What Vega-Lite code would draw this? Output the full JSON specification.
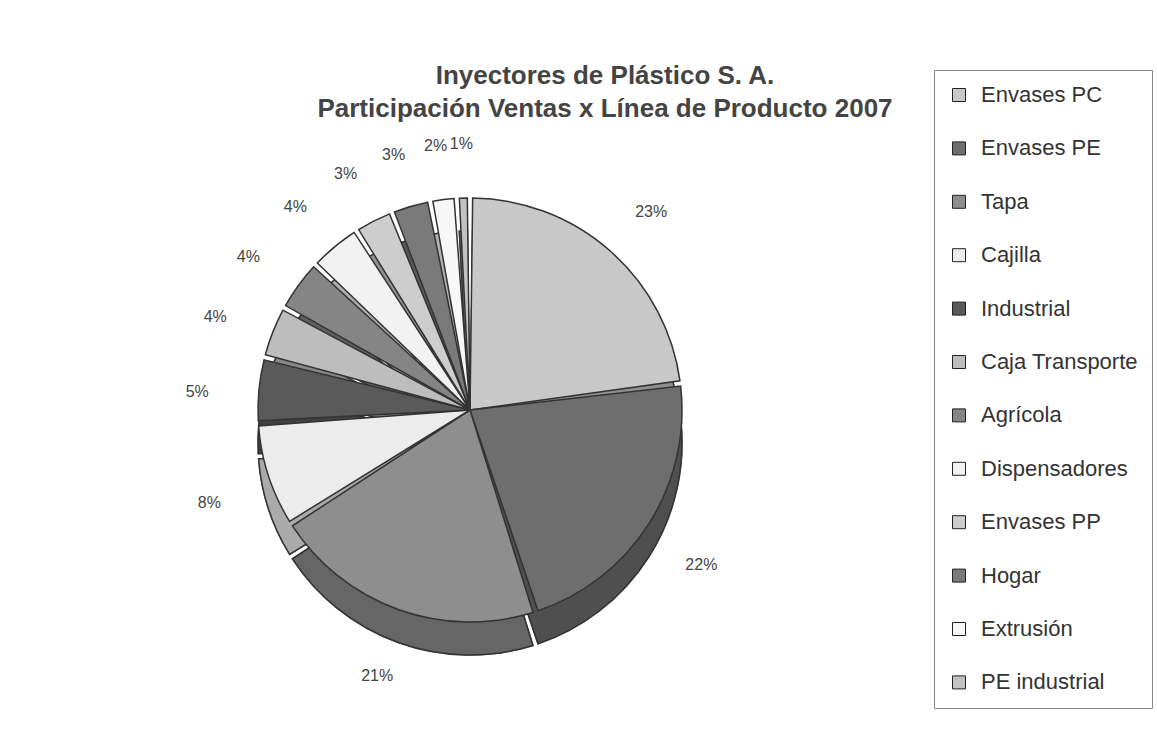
{
  "$schema": "https://vega.github.io/schema/vega-lite/v6.json",
  "autosize": "none",
  "width": 930,
  "height": 520,
  "padding": {"left": 5, "top": 150, "right": 222, "bottom": 67},
  "background": "white",
  "title": {
    "text": ["Inyectores de Plástico S. A.", "Participación Ventas x Línea de Producto 2007"],
    "font": "Liberation Sans",
    "fontSize": 26,
    "fontWeight": "bold",
    "color": "#444444",
    "lineHeight": 33,
    "anchor": "middle",
    "dx": 135,
    "offset": -52
  },
  "data": {
    "values": [
      {"linea": "Envases PC", "participacion": 0.23, "orden": 1},
      {"linea": "Envases PE", "participacion": 0.22, "orden": 2},
      {"linea": "Tapa", "participacion": 0.21, "orden": 3},
      {"linea": "Cajilla", "participacion": 0.08, "orden": 4},
      {"linea": "Industrial", "participacion": 0.05, "orden": 5},
      {"linea": "Caja Transporte", "participacion": 0.04, "orden": 6},
      {"linea": "Agrícola", "participacion": 0.04, "orden": 7},
      {"linea": "Dispensadores", "participacion": 0.04, "orden": 8},
      {"linea": "Envases PP", "participacion": 0.03, "orden": 9},
      {"linea": "Hogar", "participacion": 0.03, "orden": 10},
      {"linea": "Extrusión", "participacion": 0.02, "orden": 11},
      {"linea": "PE industrial", "participacion": 0.01, "orden": 12}
    ]
  },
  "encoding": {
    "theta": {"field": "participacion", "type": "quantitative", "stack": true},
    "order": {"field": "orden", "type": "quantitative", "sort": "ascending"}
  },
  "layer": [
    {
      "mark": {"type": "arc", "radius": 212, "padAngle": 0.025, "yOffset": 33, "fill": "#000000", "stroke": "#333333", "strokeWidth": 1.5}
    },
    {
      "mark": {"type": "arc", "radius": 212, "padAngle": 0.025, "yOffset": 33, "opacity": 0.72, "stroke": "#333333", "strokeWidth": 1.5},
      "encoding": {
        "color": {"field": "linea", "type": "nominal",
          "scale": {
            "domain": ["Envases PC", "Envases PE", "Tapa", "Cajilla", "Industrial", "Caja Transporte", "Agrícola", "Dispensadores", "Envases PP", "Hogar", "Extrusión", "PE industrial"],
            "range": ["#c8c8c8", "#6e6e6e", "#8e8e8e", "#ececec", "#5a5a5a", "#bdbdbd", "#858585", "#f2f2f2", "#cdcdcd", "#7a7a7a", "#f7f7f7", "#c2c2c2"]
          },
          "legend": {
            "title": null,
            "orient": "none",
            "legendX": 929,
            "legendY": -80,
            "symbolType": "square",
            "symbolSize": 169,
            "symbolStrokeColor": "#222222",
            "symbolStrokeWidth": 1,
            "symbolOpacity": 1,
            "labelFont": "Liberation Sans",
            "labelFontSize": 22,
            "labelColor": "#333333",
            "labelLimit": 300,
            "labelOffset": 11,
            "rowPadding": 31.4,
            "padding": 14,
            "strokeColor": "#888888",
            "fillColor": "white"
          }
        }
      }
    },
    {
      "mark": {"type": "arc", "radius": 212, "padAngle": 0.025, "stroke": "#333333", "strokeWidth": 1.5},
      "encoding": {
        "color": {"field": "linea", "type": "nominal",
          "scale": {
            "domain": ["Envases PC", "Envases PE", "Tapa", "Cajilla", "Industrial", "Caja Transporte", "Agrícola", "Dispensadores", "Envases PP", "Hogar", "Extrusión", "PE industrial"],
            "range": ["#c8c8c8", "#6e6e6e", "#8e8e8e", "#ececec", "#5a5a5a", "#bdbdbd", "#858585", "#f2f2f2", "#cdcdcd", "#7a7a7a", "#f7f7f7", "#c2c2c2"]
          },
          "legend": {
            "title": null,
            "orient": "none",
            "legendX": 929,
            "legendY": -80,
            "symbolType": "square",
            "symbolSize": 169,
            "symbolStrokeColor": "#222222",
            "symbolStrokeWidth": 1,
            "symbolOpacity": 1,
            "labelFont": "Liberation Sans",
            "labelFontSize": 22,
            "labelColor": "#333333",
            "labelLimit": 300,
            "labelOffset": 11,
            "rowPadding": 31.4,
            "padding": 14,
            "strokeColor": "#888888",
            "fillColor": "white"
          }
        }
      }
    },
    {
      "mark": {"type": "text", "radius": 274, "yOffset": 8, "font": "Liberation Sans", "fontSize": 16, "fill": "#444444"},
      "encoding": {
        "text": {"field": "participacion", "type": "quantitative", "format": ".0%"}
      }
    }
  ],
  "config": {
    "view": {"stroke": null}
  }
}
